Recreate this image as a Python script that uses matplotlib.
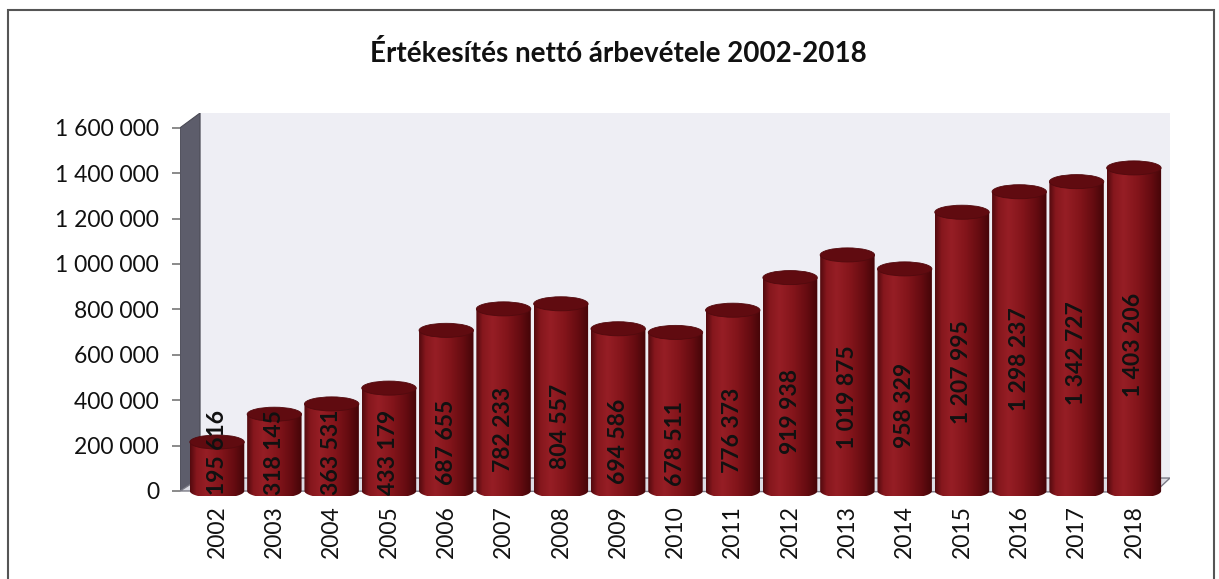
import numpy as np
import matplotlib
matplotlib.use("Agg")
import matplotlib.pyplot as plt
from matplotlib.patches import Polygon, Rectangle, Ellipse
from matplotlib.colors import LinearSegmentedColormap
from matplotlib.ticker import FuncFormatter

plt.rcParams['font.family'] = ['Lato', 'DejaVu Sans']

# Data
years = ['2002', '2003', '2004', '2005', '2006', '2007', '2008', '2009', '2010',
         '2011', '2012', '2013', '2014', '2015', '2016', '2017', '2018']
revenue = [195616, 318145, 363531, 433179, 687655, 782233, 804557, 694586, 678511,
           776373, 919938, 1019875, 958329, 1207995, 1298237, 1342727, 1403206]
title = 'Értékesítés nettó árbevétele 2002-2018'
y_max = 1600000
y_step = 200000


def fmt(v, pos=None):
    return f'{v:,.0f}'.replace(',', ' ')


fig = plt.figure(figsize=(12.19, 5.79), dpi=100)
ax = fig.add_axes([0.1477, 0.1442, 0.8121, 0.6606])
ax.set_facecolor('none')

x = np.arange(len(years))
x_lo, x_hi = -0.646, 16.63
y_lo, y_hi = -20000, 1665000
bw = 0.95
cap_h = 62000       # height of the top ellipse, data units
cap_dz = 20000      # 3D lift of the top
floor_h = 57000     # back edge of the floor

# back wall
ax.add_patch(Rectangle((-0.297, floor_h), x_hi + 0.297, y_hi - floor_h,
                       fc='#eeeef4', ec='none', zorder=0))
# left wall
ax.add_patch(Polygon([(x_lo, 0), (x_lo, y_max), (-0.297, y_hi), (-0.297, floor_h)],
                     closed=True, fc='#5d5d6b', ec='#4a4a55', lw=0.8, zorder=1))
# floor
ax.add_patch(Polygon([(x_lo, 0), (16.37, -4500), (16.63, floor_h), (-0.297, floor_h)],
                     closed=True, fc='#dcdce4', ec='#7a7a85', lw=1.0, zorder=1))

cyl = LinearSegmentedColormap.from_list('cyl', [
    (0.0, '#520a0e'), (0.12, '#86171d'), (0.3, '#961e25'), (0.55, '#84151b'),
    (0.8, '#660c11'), (1.0, '#440508')])
grad = np.linspace(0, 1, 256).reshape(1, -1)

for i, v in zip(x, revenue):
    top = v + cap_dz
    th = np.linspace(np.pi, 2 * np.pi, 60)
    bx = i + bw / 2 * np.cos(th)
    by = cap_h / 2 * np.sin(th)
    verts = list(zip(bx, by)) + [(i + bw / 2, top), (i - bw / 2, top)]
    body = Polygon(verts, closed=True, fc='none', ec='none')
    ax.add_patch(body)
    im = ax.imshow(grad, extent=(i - bw / 2, i + bw / 2, -cap_h / 2, top),
                   aspect='auto', cmap=cyl, zorder=3 + i * 0.01)
    im.set_clip_path(body)
    ax.add_patch(Ellipse((i, top), bw, cap_h, fc='#600b10', ec='#520a0e',
                         lw=0.6, zorder=3.005 + i * 0.01))
    yc = max(0.6 * v - 200000, 170000)
    ax.text(i, yc, fmt(v), rotation=90, ha='center', va='center',
            fontsize=16.5, fontweight='bold', color='#111111', zorder=5)

ax.set_xlim(x_lo, x_hi)
ax.set_ylim(y_lo, y_hi)
ax.set_xticks(x)
ax.set_xticklabels(years, rotation=90, fontsize=16.5, color='#111111')
ax.tick_params(axis='x', length=0, pad=7)
ax.yaxis.set_major_formatter(FuncFormatter(fmt))
ax.set_yticks(np.arange(0, y_max + 1, y_step))
ax.tick_params(axis='y', length=6, width=1.2, color='#777777', pad=9,
               labelsize=16.5, labelcolor='#111111')
for s in ax.spines.values():
    s.set_visible(False)

fig.text(0.507, 0.893, title, ha='center', va='baseline',
         fontsize=20, fontweight='bold', color='#111111')

# outer frame
fig.patches.append(Rectangle((8 / 1219, -0.05), (1214 - 8) / 1219, (579 - 10) / 579 + 0.05,
                             fill=False, ec='#555555', lw=1.5,
                             transform=fig.transFigure, figure=fig))

fig.savefig('out.png', dpi=100)
